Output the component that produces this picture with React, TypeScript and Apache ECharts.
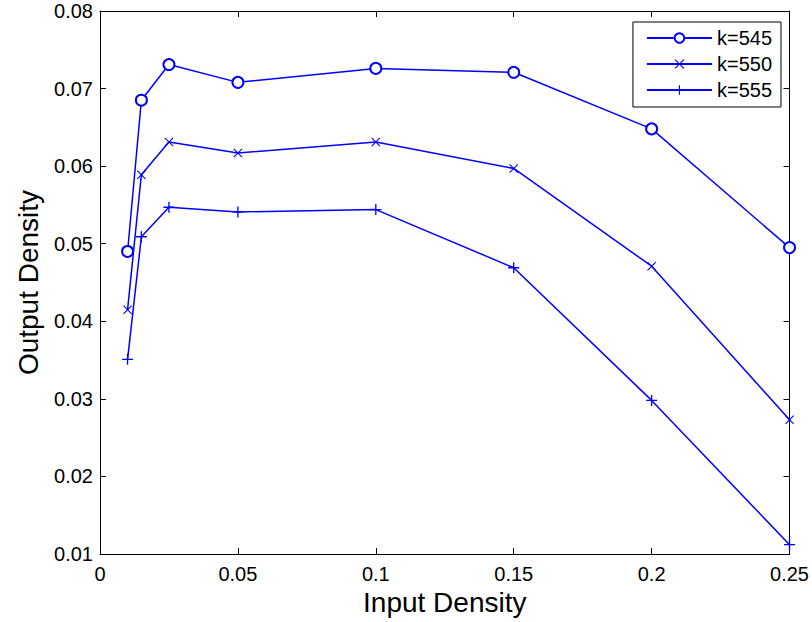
import React, { useEffect, useRef } from "react";
import * as echarts from "echarts";

const xValues = [0.01, 0.015, 0.025, 0.05, 0.1, 0.15, 0.2, 0.25];
const k545 = [0.0490, 0.0685, 0.0731, 0.0708, 0.0726, 0.0721, 0.0648, 0.0495];
const k550 = [0.0415, 0.0589, 0.0631, 0.0617, 0.0631, 0.0597, 0.0471, 0.0273];
const k555 = [0.0351, 0.0509, 0.0547, 0.0541, 0.0544, 0.0469, 0.0298, 0.0112];
const seriesNames = ["k=545", "k=550", "k=555"];
const xTicks = [0, 0.05, 0.1, 0.15, 0.2, 0.25];

const PLUS = "path://M4.4,0H5.6V4.4H10V5.6H5.6V10H4.4V5.6H0V4.4H4.4Z";
const CROSS =
  "path://M0.85,0L5,4.15L9.15,0L10,0.85L5.85,5L10,9.15L9.15,10L5,5.85L0.85,10L0,9.15L4.15,5L0,0.85Z";

const FONT = "Liberation Sans, Arial, sans-serif";
const BLUE = "#0000ff";

export default function App() {
  const ref = useRef<HTMLDivElement>(null);
  useEffect(() => {
    if (!ref.current) return;
    const chart = echarts.init(ref.current, null, { renderer: "svg" });
    const toPairs = (ys: number[]) => xValues.map((x, i) => [x, ys[i]]);
    const fmtX = (v: number) => {
      const r = Math.round(v * 1000) / 1000;
      return xTicks.some((t) => Math.abs(t - r) < 1e-9) ? String(r) : "";
    };
    const fmtY = (v: number) => (Math.round(v * 100) / 100).toFixed(2);
    const axisCommon = {
      axisLine: { show: true, onZero: false, lineStyle: { color: "#000", width: 1 } },
      axisTick: { show: true, inside: true, length: 6, lineStyle: { color: "#000" } },
      splitLine: { show: false },
    };
    const lineStyle = { color: BLUE, width: 1.5 };
    chart.setOption({
      animation: false,
      backgroundColor: "#fff",
      grid: { left: 100, right: 22, top: 11, bottom: 68 },
      legend: {
        right: 31,
        top: 22,
        orient: "vertical",
        data: seriesNames,
        backgroundColor: "#fff",
        borderColor: "#000",
        borderWidth: 1,
        borderRadius: 0,
        padding: [6, 9, 7, 13],
        itemWidth: 65,
        itemHeight: 12,
        itemGap: 6,
        textStyle: { fontFamily: FONT, fontSize: 20, color: "#000" },
      },
      xAxis: [
        {
          type: "value",
          min: 0,
          max: 0.25,
          interval: 0.05,
          position: "bottom",
          name: "Input Density",
          nameLocation: "middle",
          nameGap: 34,
          nameTextStyle: { fontFamily: FONT, fontSize: 28, color: "#000" },
          axisLabel: { fontFamily: FONT, fontSize: 20, color: "#000", margin: 10, formatter: fmtX },
          ...axisCommon,
        },
        {
          type: "value",
          min: 0,
          max: 0.25,
          interval: 0.05,
          position: "top",
          axisLabel: { show: false },
          ...axisCommon,
        },
      ],
      yAxis: [
        {
          type: "value",
          min: 0.01,
          max: 0.08,
          interval: 0.01,
          position: "left",
          name: "Output Density",
          nameLocation: "middle",
          nameGap: 58,
          nameTextStyle: { fontFamily: FONT, fontSize: 28, color: "#000" },
          axisLabel: { fontFamily: FONT, fontSize: 20, color: "#000", margin: 7, formatter: fmtY },
          ...axisCommon,
        },
        {
          type: "value",
          min: 0.01,
          max: 0.08,
          interval: 0.01,
          position: "right",
          axisLabel: { show: false },
          ...axisCommon,
        },
      ],
      series: [
        {
          name: seriesNames[0],
          type: "line",
          data: toPairs(k545),
          symbol: "emptyCircle",
          symbolSize: 11,
          lineStyle,
          itemStyle: { color: BLUE, borderColor: BLUE, borderWidth: 1.5 },
        },
        {
          name: seriesNames[1],
          type: "line",
          data: toPairs(k550),
          symbol: CROSS,
          symbolSize: 9,
          lineStyle,
          itemStyle: { color: BLUE, borderWidth: 0 },
        },
        {
          name: seriesNames[2],
          type: "line",
          data: toPairs(k555),
          symbol: PLUS,
          symbolSize: 11,
          lineStyle,
          itemStyle: { color: BLUE, borderWidth: 0 },
        },
      ],
    });
    return () => chart.dispose();
  }, []);
  return (
    <div
      ref={ref}
      style={{ position: "absolute", left: 0, top: 0, width: 812, height: 622 }}
    />
  );
}
